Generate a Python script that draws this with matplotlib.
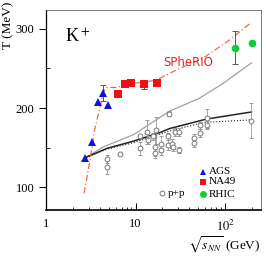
import numpy as np
import matplotlib.pyplot as plt

plt.rcParams['font.family'] = ['Liberation Serif', 'DejaVu Serif']
plt.rcParams['mathtext.fontset'] = 'stix'

# data
ags_x = [2.7, 3.3, 3.8, 4.3, 4.9]
ags_T = [137, 157, 207, 219, 204]
ags_err = [0, 0, 0, 10, 0]

na49_x = [6.3, 7.6, 8.8, 12.3, 17.3]
na49_T = [218, 230, 232, 230, 232]
na49_err = [0, 0, 0, 6, 0]

rhic_x = [130, 200]
rhic_T = [276, 282]
rhic_err = [21, 0]

pp_x = [4.8, 4.8, 6.7, 11.2, 11.2, 13.5, 13.9, 15.7, 16.5, 16.5, 16.9, 19.5, 19.5, 23.2,
        23.2, 23.9, 25.3, 26.4, 27.6, 30.9, 30.9, 45, 45, 52, 53, 63, 63, 194]
pp_T = [135, 126, 142, 149, 164, 170, 160, 164, 151, 143, 172, 155, 147, 164,
        153, 193, 155, 151, 170, 170, 147, 162, 156, 168, 178, 178, 187, 184]
pp_err = [5, 9, 0, 8, 0, 15, 5, 4, 12, 6, 17, 10, 6, 4,
          6, 3, 6, 5, 5, 5, 4, 5, 5, 5, 4, 5, 12, 22]

spherio_x = [2.66, 3.1, 3.53, 4.0, 4.33, 4.76, 6.16, 9.37, 16.9, 28.5, 56.8, 112.7, 196]
spherio_T = [92, 134, 175, 200, 219, 226, 226, 231, 235, 248, 263, 286, 308]

gray_x = [2.8, 4.4, 9.4, 24, 51, 95, 197]
gray_T = [137.6, 151, 166, 196, 212, 231, 257]

solid_x = [2.8, 4.8, 9.4, 18.8, 24, 62, 198]
solid_T = [137.6, 149, 158, 169, 174, 186, 195]

dot_x = [2.8, 4.8, 9.4, 18.8, 24, 50, 62, 195]
dot_T = [137.6, 148, 156, 167, 171, 180, 182, 185]

fig = plt.figure(figsize=(2.66, 2.60), dpi=100)
ax = fig.add_axes([0.173, 0.192, 0.808, 0.77])

ax.plot(gray_x, gray_T, color='#a0a0a0', lw=0.9)
ax.plot(solid_x, solid_T, color='#222222', lw=1.1)
ax.plot(dot_x, dot_T, color='#222222', lw=0.8, ls=':')
ax.plot(spherio_x, spherio_T, color='#f26a4a', lw=0.9, ls=(0, (5, 2, 1, 2)))

pp_e = np.array(pp_err, dtype=float)
ax.errorbar(pp_x, pp_T, yerr=np.where(pp_e > 0, pp_e, np.nan), fmt='o', ms=3.5, mfc='white',
            mec='#777777', mew=0.7, ecolor='#999999', elinewidth=0.6, capsize=1.5, capthick=0.6)

for x, y, e in [(ags_x, ags_T, ags_err), (na49_x, na49_T, na49_err), (rhic_x, rhic_T, rhic_err)]:
    e = np.array(e, dtype=float)
    ax.errorbar(x, y, yerr=np.where(e > 0, e, np.nan), fmt='none', ecolor='#555555',
                elinewidth=0.7, capsize=2, capthick=0.7)

ax.plot(ags_x, ags_T, '^', color='#1010e0', ms=5.5, mew=0)
ax.plot(na49_x, na49_T, 's', color='#ee1111', ms=5.5, mew=0)
ax.plot(rhic_x, rhic_T, 'o', color='#11cc33', ms=5.5, mew=0)

ax.set_xscale('log')
ax.set_xlim(1, 252)
ax.set_ylim(71, 324)
ax.set_xticks([1, 10, 100])
ax.set_xticklabels(['1', '10', '$10^2$'], fontsize=9)
ax.set_xticks([2, 3, 4, 5, 6, 7, 8, 9, 20, 30, 40, 50, 60, 70, 80, 90, 200], minor=True)
ax.set_xticklabels([], minor=True)
ax.set_yticks([100, 200, 300])
ax.set_yticklabels(['100', '200', '300'], fontsize=9)
ax.set_yticks([150, 250], minor=True)
ax.tick_params(axis='x', which='major', direction='in', length=5, width=0.7, pad=6)
ax.tick_params(axis='x', which='minor', direction='in', length=2.5, width=0.6)
ax.tick_params(axis='y', which='major', direction='out', length=5, width=0.7)
ax.tick_params(axis='y', which='minor', direction='in', length=3, width=0.6)

ax.spines['bottom'].set_linewidth(1.2)
ax.spines['left'].set_linewidth(0.9)
for s in ['top', 'right']:
    ax.spines[s].set_linewidth(0.6)
    ax.spines[s].set_color('#666666')

ax.text(0.088, 0.835, 'K$^+$', transform=ax.transAxes, fontsize=13)
ax.text(0.66, 0.735, 'SPheRIO', transform=ax.transAxes, fontsize=8.5, color='#ee2222',
        family='DejaVu Sans', ha='center', va='center')

# legend
ax.plot([0.73], [0.1915], '^', color='#1010e0', ms=5, mew=0, transform=ax.transAxes)
ax.plot([0.73], [0.1415], 's', color='#ee1111', ms=5, mew=0, transform=ax.transAxes)
ax.plot([0.73], [0.0785], 'o', color='#11cc33', ms=5, mew=0, transform=ax.transAxes)
ax.plot([0.54], [0.0835], 'o', ms=3.5, mfc='white', mec='#777777', mew=0.7, transform=ax.transAxes)
ax.text(0.757, 0.1915, 'AGS', transform=ax.transAxes, fontsize=8, va='center')
ax.text(0.757, 0.1415, 'NA49', transform=ax.transAxes, fontsize=8, va='center')
ax.text(0.757, 0.0785, 'RHIC', transform=ax.transAxes, fontsize=8, va='center')
ax.text(0.565, 0.0835, 'p+p', transform=ax.transAxes, fontsize=8, va='center')

fig.text(0.98, 0.02, r'$\sqrt{s_{NN}}$ (GeV)', fontsize=9.5, ha='right', va='bottom')
fig.text(0.01, 0.995, 'T (MeV)', fontsize=9.5, rotation=90, ha='left', va='top')

fig.savefig('out.png', dpi=100)
